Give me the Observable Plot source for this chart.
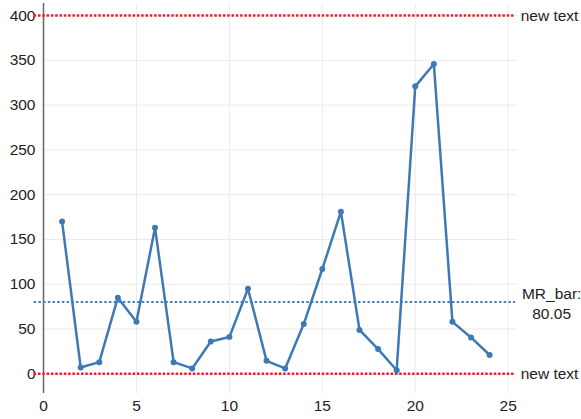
<!DOCTYPE html>
<html>
<head>
<meta charset="utf-8">
<script src="https://cdn.jsdelivr.net/npm/d3@7"></script>
<script src="https://cdn.jsdelivr.net/npm/@observablehq/plot@0.6"></script>
<style>
  html, body { margin: 0; padding: 0; background: #fff; }
  svg { display: block; }
</style>
</head>
<body>
<div id="chart"></div>
<script>
const obs = [1,2,3,4,5,6,7,8,9,10,11,12,13,14,15,16,17,18,19,20,21,22,23,24];
const mr = [170,7,13,85,58,163,13,6,36,41,95,14.5,6,55.5,117,181,49,27.6,4,321,346,58,40.6,21];
const mrBar = 80.05;
const upperLimit = 400;
const lowerLimit = 0;
const xTicks = [0,5,10,15,20,25];
const yTicks = [0,50,100,150,200,250,300,350,400];
const limitLabels = ["new text", "new text"];
const barLabel = "MR_bar:\n80.05";

const data = obs.map((x, i) => ({x, y: mr[i]}));
const limits = [{y: upperLimit, label: limitLabels[0]}, {y: lowerLimit, label: limitLabels[1]}];

const chart = Plot.plot({
  width: 581,
  height: 419,
  marginLeft: 43,
  marginRight: 64,
  marginTop: 3,
  marginBottom: 26,
  style: {fontFamily: "Liberation Sans, Arial, sans-serif", fontSize: "15.5px", color: "#222", background: "#fff"},
  x: {domain: [0, 25.5], ticks: xTicks, label: null},
  y: {domain: [-22, 413.5], ticks: yTicks, label: null},
  marks: [
    Plot.gridX(xTicks, {stroke: "#ebebeb", strokeOpacity: 1, strokeWidth: 1}),
    Plot.gridY(yTicks, {stroke: "#ebebeb", strokeOpacity: 1, strokeWidth: 1}),
    Plot.axisX(xTicks, {tickSize: 0, tickPadding: 6.5, fontSize: 15.5, fill: "#222"}),
    Plot.axisY(yTicks, {tickSize: 0, tickPadding: 8, fontSize: 15.5, fill: "#222"}),
    Plot.ruleX([0], {stroke: "#666", strokeWidth: 1.5}),
    Plot.ruleY(limits, {y: "y", x1: -0.5, x2: 25.4, stroke: "#e8202a", strokeWidth: 2.5, strokeDasharray: "2.5,1.8", clip: false}),
    Plot.ruleY([mrBar], {x1: -0.5, x2: 25.4, stroke: "#4a80b8", strokeWidth: 2, strokeDasharray: "2.5,2.2", clip: false}),
    Plot.line(data, {x: "x", y: "y", stroke: "#3d7ab5", strokeWidth: 2.5}),
    Plot.dot(data, {x: "x", y: "y", r: 3, fill: "#3d7ab5", stroke: "none"}),
    Plot.text(limits, {x: () => 25.4, y: "y", text: "label", textAnchor: "start", dx: 5, fontSize: 15.5, fill: "#222", clip: false}),
    Plot.text([mrBar], {x: () => 25.4, y: d => d, text: () => barLabel, textAnchor: "middle", dx: 36, lineHeight: 1.29, fontSize: 15.5, fill: "#222", clip: false})
  ]
});
document.getElementById("chart").appendChild(chart);
</script>
</body>
</html>
